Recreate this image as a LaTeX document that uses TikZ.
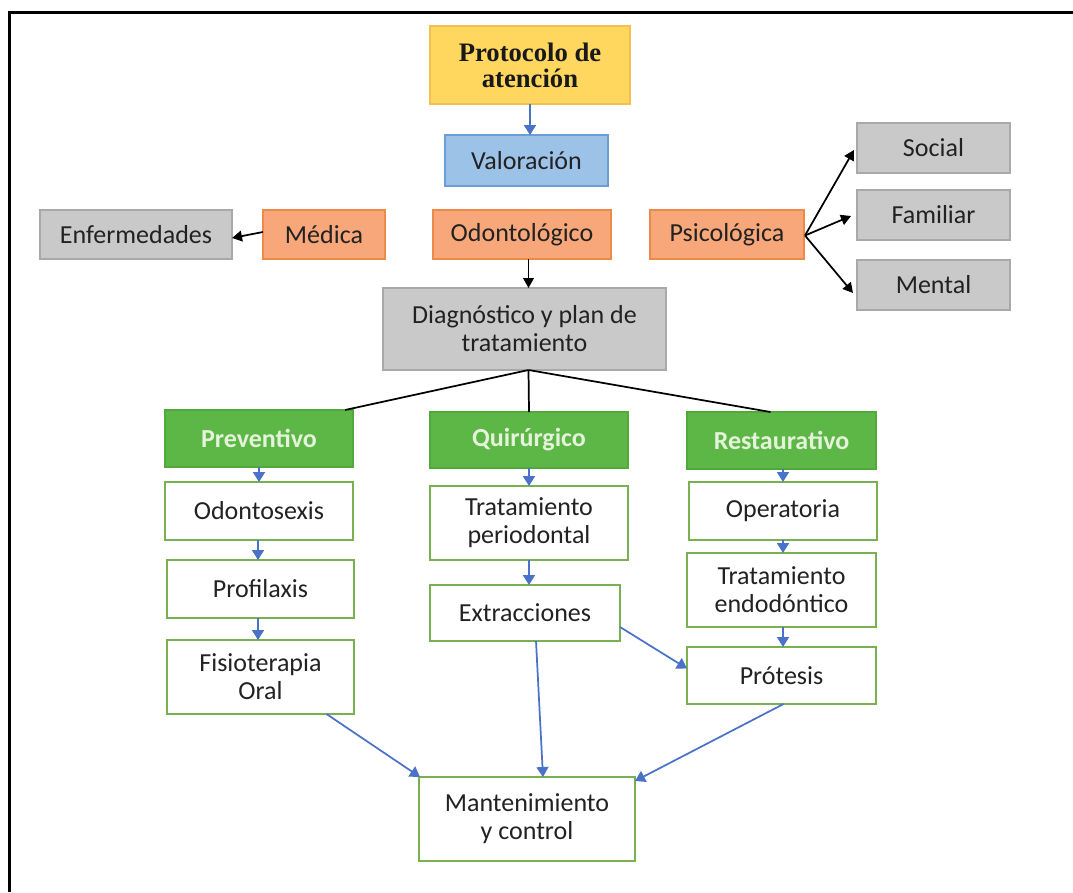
\documentclass[tikz,border=0pt]{standalone}
\usepackage{fontspec}
\setmainfont{Carlito}
\newfontfamily\titlefont{Liberation Serif}
\usetikzlibrary{arrows.meta,calc}
\definecolor{yfill}{HTML}{FFD65E}
\definecolor{ydraw}{HTML}{F2C04E}
\definecolor{bfill}{HTML}{9CC2E8}
\definecolor{bdraw}{HTML}{6A9FD6}
\definecolor{ofill}{HTML}{F7A779}
\definecolor{odraw}{HTML}{EE8A48}
\definecolor{gfill}{HTML}{C9C9C9}
\definecolor{gdraw}{HTML}{A9A9A9}
\definecolor{grfill}{HTML}{5DB747}
\definecolor{grdraw}{HTML}{51A83C}
\definecolor{grtext}{HTML}{E4F3DA}
\definecolor{wdraw}{HTML}{78B052}
\definecolor{arrblue}{HTML}{4A72C8}
\definecolor{txt}{HTML}{222222}
\tikzset{
  box/.style={rectangle, inner sep=0pt, outer sep=0pt, align=center, text=txt,
    font=\fontsize{19.5}{21}\selectfont, line width=0.9pt},
  yellowbox/.style={box, fill=yfill, draw=ydraw, font=\titlefont\bfseries\fontsize{20}{19.5}\selectfont, text=black!90},
  bluebox/.style={box, fill=bfill, draw=bdraw},
  orangebox/.style={box, fill=ofill, draw=odraw},
  graybox/.style={box, fill=gfill, draw=gdraw},
  greenbox/.style={box, fill=grfill, draw=grdraw, text=grtext, font=\bfseries\fontsize{19.5}{21}\selectfont},
  whitebox/.style={box, fill=white, draw=wdraw},
  barrow/.style={draw=arrblue, line width=1.3pt, -{Triangle[width=9pt,length=7.5pt]}},
  karrow/.style={draw=black, line width=1.3pt, -{Triangle[width=8pt,length=7.5pt]}},
  kline/.style={draw=black, line width=1.3pt},
  frameline/.style={draw=black, line width=2.2pt}
}
\begin{document}
\begin{tikzpicture}[x=0.75pt, y=-0.75pt]
\useasboundingbox (0,0) rectangle (1073,892);
\coordinate (fTL) at (9.5,12.5);
\coordinate (fTR) at (1073,12.5);
\coordinate (fBL) at (9.5,892);
\draw[frameline] (fTR) -- (fTL) -- (fBL);

\node[yellowbox, minimum width=150pt, minimum height=58.5pt] (proto) at (530,65) {Protocolo de\\atención};
\node[bluebox, minimum width=122.25pt, minimum height=38.25pt] (valor) at (526.5,160.5) {Valoración};
\node[graybox, minimum width=144pt, minimum height=36.75pt] (enf) at (136,234.5) {Enfermedades};
\node[orangebox, minimum width=91.5pt, minimum height=36.75pt] (med) at (324,234.5) {Médica};
\node[orangebox, minimum width=133.5pt, minimum height=36.75pt] (odo) at (522,234.5) {Odontológico};
\node[orangebox, minimum width=115.5pt, minimum height=36.75pt] (psi) at (727,234.5) {Psicológica};
\node[graybox, minimum width=114.75pt, minimum height=37.5pt] (soc) at (933.5,148) {Social};
\node[graybox, minimum width=114.75pt, minimum height=37.5pt] (fam) at (933.5,215) {Familiar};
\node[graybox, minimum width=114.75pt, minimum height=37.5pt] (men) at (933.5,285) {Mental};
\node[graybox, minimum width=212.25pt, minimum height=61.5pt] (diag) at (524.5,329) {Diagnóstico y plan de\\tratamiento};

\node[greenbox, minimum width=141pt, minimum height=42.75pt] (prev) at (259,438.5) {Preventivo};
\node[greenbox, minimum width=148.5pt, minimum height=42pt] (quir) at (529,440) {Quirúrgico};
\node[greenbox, minimum width=141.75pt, minimum height=42.75pt] (rest) at (781.5,440.5) {Restaurativo};

\node[whitebox, minimum width=141pt, minimum height=43.5pt] (odx) at (259,511) {Odontosexis};
\node[whitebox, minimum width=140.25pt, minimum height=43.5pt] (prof) at (260.5,589) {Profilaxis};
\node[whitebox, minimum width=140.25pt, minimum height=55.5pt] (fisio) at (260.5,677) {Fisioterapia\\Oral};
\node[whitebox, minimum width=148.5pt, minimum height=55.5pt] (trper) at (529,523) {Tratamiento\\periodontal};
\node[whitebox, minimum width=142.5pt, minimum height=42pt] (extr) at (525,613) {Extracciones};
\node[whitebox, minimum width=141pt, minimum height=43.5pt] (oper) at (783,511) {Operatoria};
\node[whitebox, minimum width=141.75pt, minimum height=55.5pt] (endo) at (781.5,590) {Tratamiento\\endodóntico};
\node[whitebox, minimum width=141.75pt, minimum height=42.75pt] (prot) at (781.5,675.5) {Prótesis};
\node[whitebox, minimum width=162pt, minimum height=63pt] (mant) at (527,819) {Mantenimiento\\y control};

% helper points
\coordinate (dtop) at ($(diag.north)+(4,0)$);
\coordinate (dbot) at ($(diag.south)+(4,0)$);
\coordinate (psiout) at ($(psi.east)+(1,1)$);

% top connectors
\draw[barrow] (proto.south) -- (proto.south |- valor.north);
\draw[karrow] (dtop |- odo.south) -- (dtop);
\draw[karrow] ($(med.west)+(0,-2.5)$) -- ($(enf.east)+(0,3.5)$);
\draw[karrow] (psiout) -- ($(soc.west)+(-3,2)$);
\draw[karrow] (psiout) -- ($(fam.west)+(-6,1)$);
\draw[karrow] (psiout) -- ($(men.west)+(-4,8)$);

% branches
\draw[kline] (dbot) -- ($(prev.north east)+(-8,0)$);
\draw[kline] (dbot) -- (quir.north);
\draw[kline] (dbot) -- ($(rest.north)+(-11,0)$);

% column arrows
\draw[barrow] (prev.south) -- (odx.north);
\draw[barrow] ($(odx.south)+(-1,0)$) -- ($(odx.south |- prof.north)+(-1,0)$);
\draw[barrow] ($(prof.south)+(-2.5,0)$) -- ($(prof.south |- fisio.north)+(-2.5,0)$);
\draw[barrow] (quir.south) -- (quir.south |- trper.north);
\draw[barrow] (trper.south) -- (trper.south |- extr.north);
\draw[barrow] (oper.south |- rest.south) -- (oper.north);
\draw[barrow] (oper.south) -- (oper.south |- endo.north);
\draw[barrow] (oper.south |- endo.south) -- (oper.south |- prot.north);

% to prosthesis and maintenance
\draw[barrow] ($(extr.east)+(0,14)$) -- ($(prot.west)+(0,-7)$);
\draw[barrow] ($(fisio.south)+(66,0)$) -- ($(mant.north west)+(1,0)$);
\draw[barrow] ($(extr.south)+(11,0)$) -- ($(mant.north)+(16,0)$);
\draw[barrow] ($(prot.south)+(2,0)$) -- ($(mant.north east)+(0,4)$);
\end{tikzpicture}
\end{document}
